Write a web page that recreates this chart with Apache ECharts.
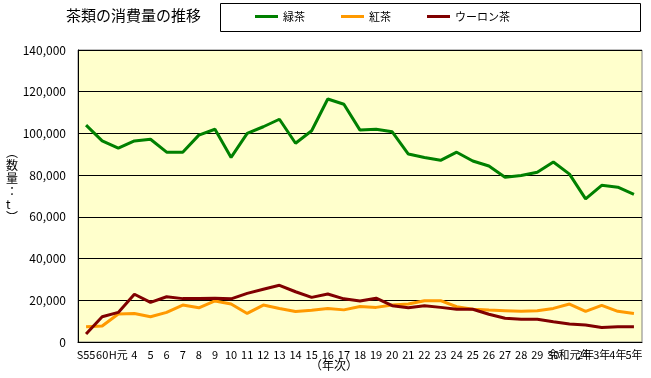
<!DOCTYPE html>
<html><head><meta charset="utf-8">
<script src="https://cdn.jsdelivr.net/npm/echarts@6/dist/echarts.min.js"></script>
<style>html,body{margin:0;padding:0;background:#fff}#c{width:651px;height:378px}</style>
</head><body><div id="c"></div>
<script>
const categories = ['S55','60','H元','4','5','6','7','8','9','10','11','12','13','14','15','16','17','18','19','20','21','22','23','24','25','26','27','28','29','30','令和元年','2年','3年','4年','5年'];
const greenTea = [104000,96400,92900,96400,97200,91000,91000,99200,102000,88500,100000,103200,106800,95300,101300,116500,114000,101600,102000,100800,90100,88500,87100,91000,86800,84400,79000,79800,81400,86300,80500,68600,75100,74200,70800];
const blackTea = [7300,7700,13400,13700,12100,14200,17700,16400,19700,18200,13700,17700,16100,14600,15200,16100,15400,17000,16600,17700,18200,19800,19800,16900,15700,15300,15000,14700,15000,16100,18200,14700,17600,14700,13700];
const oolongTea = [3800,12100,14200,22900,19000,21700,20800,20800,21000,20700,23300,25300,27200,24100,21400,23000,20700,19700,21000,17400,16400,17400,16600,15700,15700,13300,11400,10900,10900,9700,8600,8200,7000,7300,7300];
const yTicks = [0,20000,40000,60000,80000,100000,120000,140000];

const FONT = '"Noto Sans CJK JP", "DejaVu Sans", sans-serif';
const chart = echarts.init(document.getElementById('c'));
const mk = (name, data, color) => ({
  name, type: 'line', data, symbol: 'none', lineStyle: {color, width: 3}, itemStyle: {color},
  animation: false
});
chart.setOption({
  animation: false,
  textStyle: {fontFamily: FONT},
  title: {text: '茶類の消費量の推移', left: 66, top: 8, padding: 0, textStyle: {fontSize: 15, fontWeight: 'normal', color: '#000', fontFamily: FONT}},
  graphic: [
    {type: 'rect', shape: {x: 220.5, y: 3.5, width: 420, height: 28}, style: {fill: '#fff', stroke: '#000', lineWidth: 1}, z: 0},
    {type: 'text', left: 6, top: 146, style: {text: '︵\n数\n量\n：\nt\n︶', font: '12px ' + FONT, fill: '#000', lineHeight: 13, align: 'center'}},
    {type: 'text', left: 310, top: 359, style: {text: '（年次）', font: '12px ' + FONT, fill: '#000'}}
  ],
  legend: {
    left: 255, top: 11, padding: 0, icon: 'rect', itemWidth: 23, itemHeight: 3, itemGap: 36,
    textStyle: {fontSize: 11, color: '#000', fontFamily: FONT},
    data: ['緑茶','紅茶','ウーロン茶'], z: 5
  },
  grid: {left: 78, right: 9, top: 50, bottom: 36, show: true, backgroundColor: '#FFFFCC', borderColor: '#808080', borderWidth: 1},
  xAxis: {
    type: 'category', data: categories, boundaryGap: true,
    axisLine: {lineStyle: {color: '#000', width: 1}},
    axisTick: {inside: true, length: 4, lineStyle: {color: '#000'}, interval: 0},
    axisLabel: {interval: 0, fontSize: 11, color: '#000', margin: 7, fontFamily: FONT}
  },
  yAxis: {
    type: 'value', min: yTicks[0], max: yTicks[yTicks.length-1], interval: 20000,
    axisLine: {show: true, lineStyle: {color: '#000', width: 1}},
    axisTick: {show: false},
    splitLine: {lineStyle: {color: '#000', width: 1}},
    axisLabel: {fontSize: 12, color: '#000', margin: 12, fontFamily: FONT,
      formatter: v => v.toLocaleString('en-US')}
  },
  series: [
    mk('緑茶', greenTea, '#008000'),
    mk('紅茶', blackTea, '#FF9900'),
    mk('ウーロン茶', oolongTea, '#800000')
  ]
});
</script></body></html>
